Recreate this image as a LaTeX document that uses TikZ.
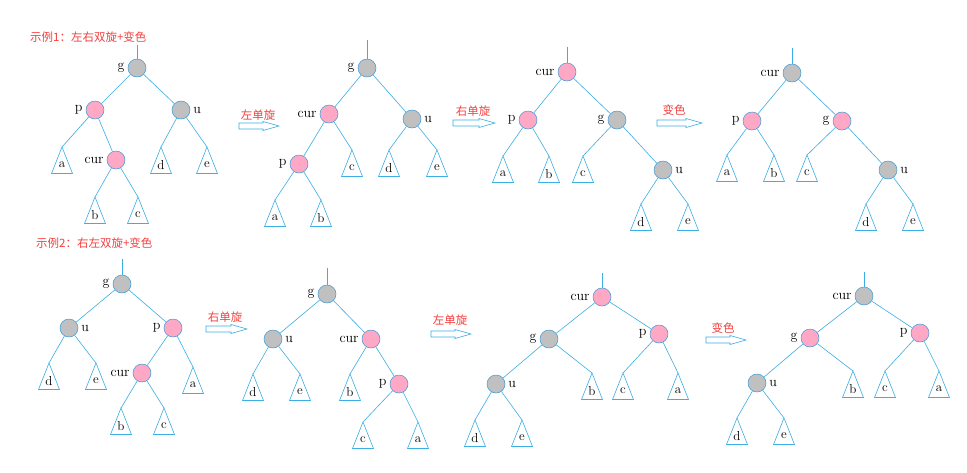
\documentclass[tikz,border=0pt]{standalone}
\usepackage{fontspec}
\newfontfamily\cjk{Noto Sans CJK SC}
\usetikzlibrary{positioning}
\definecolor{lb}{HTML}{3BAEE3}
\definecolor{cb}{HTML}{3A9AD9}
\definecolor{gy}{HTML}{C0C0C0}
\definecolor{pk}{HTML}{FFA8C5}
\definecolor{rd}{HTML}{F5403F}
\tikzset{
  edge/.style={draw=lb, line width=0.6pt},
  rn/.style={circle, draw=cb, fill=pk, minimum size=18pt, inner sep=0pt, line width=0.5pt},
  bn/.style={circle, draw=cb, fill=gy, minimum size=18pt, inner sep=0pt, line width=0.5pt},
  lab/.style={font=\fontsize{14}{14}\selectfont, inner sep=0.5pt},
  leaf/.style={font=\fontsize{13}{13}\selectfont, inner sep=0pt},
  cn/.style={text=rd, font=\cjk\fontsize{11.5}{12}\selectfont, inner sep=0pt},
  harrow/.style={draw=lb, line width=0.6pt, fill=white},
}
% tree node: name, style, x, y, label, side
\newcommand\tn[6]{%
  \node[#2] (#1) at (#3,#4) {};
  \node[lab, #6=2.5pt of #1] (#1l) {#5};}
% subtree triangle: name, apex x, apex y, text
\newcommand\lf[4]{%
  \coordinate (#1) at (#2,#3);
  \draw[edge] (#1) -- ++(-10.5,26.5) -- ++(21,0) -- cycle;
  \node[leaf] (#1x) at ([yshift=-18pt]#1) {#4};}
% hollow arrow: name, x0, x1, y
\newcommand\harr[4]{%
  \coordinate (#1a) at (#2,#4);
  \coordinate (#1b) at (#3,#4);
  \draw[harrow] (#2,{#4-3}) -- ({#3-16},{#4-3}) -- ({#3-16},{#4-4.5}) -- (#1b)
     -- ({#3-16},{#4+4.5}) -- ({#3-16},{#4+3}) -- (#2,{#4+3}) -- cycle;}
\begin{document}
\begin{tikzpicture}[x=1pt,y=-1pt]
\fill[white] (0,0) rectangle (967,472);
\useasboundingbox (0,0) rectangle (967,472);

% ---------- titles ----------
\node[cn, anchor=west] (title1) at (30,37) {示例1：左右双旋+变色};
\node[cn, anchor=west] (title2) at (36,243) {示例2：右左双旋+变色};

% ---------- tree 1 ----------
\tn{g1}{bn}{137}{68}{g}{left}
\tn{p1}{rn}{95}{110}{p}{left}
\tn{u1}{bn}{181}{110}{u}{right}
\tn{c1}{rn}{116}{160}{cur}{left}
\coordinate (s1) at (137,45);
\lf{a1}{62}{147}{a}
\lf{d1}{161}{147}{d}
\lf{e1}{207}{147}{e}
\lf{b1}{95}{197}{b}
\lf{cc1}{138}{197}{c}
\draw[edge] (s1) -- (g1);
\draw[edge] (g1) -- (p1); \draw[edge] (g1) -- (u1);
\draw[edge] (p1) -- (a1); \draw[edge] (p1) -- (c1);
\draw[edge] (u1) -- (d1); \draw[edge] (u1) -- (e1);
\draw[edge] (c1) -- (b1); \draw[edge] (c1) -- (cc1);

% arrow 1
\node[cn] (t1) at (258,115) {左单旋};
\harr{h1}{239}{279}{126}

% ---------- tree 2 ----------
\tn{g2}{bn}{367}{68}{g}{left}
\tn{c2}{rn}{329}{114}{cur}{left}
\tn{u2}{bn}{412}{119}{u}{right}
\tn{p2}{rn}{299}{164}{p}{left}
\coordinate (s2) at (367,40);
\lf{cc2}{352}{150}{c}
\lf{d2}{389}{150}{d}
\lf{e2}{437}{150}{e}
\lf{a2}{275}{200}{a}
\lf{b2}{321}{200}{b}
\draw[edge] (s2) -- (g2);
\draw[edge] (g2) -- (c2); \draw[edge] (g2) -- (u2);
\draw[edge] (c2) -- (p2); \draw[edge] (c2) -- (cc2);
\draw[edge] (u2) -- (d2); \draw[edge] (u2) -- (e2);
\draw[edge] (p2) -- (a2); \draw[edge] (p2) -- (b2);

% arrow 2
\node[cn] (t2) at (473,111) {右单旋};
\harr{h2}{453}{495}{123}

% ---------- tree 3 ----------
\tn{c3}{rn}{567}{72}{cur}{left}
\tn{p3}{rn}{528}{120}{p}{left}
\tn{g3}{bn}{617}{120}{g}{left}
\tn{u3}{bn}{663}{170}{u}{right}
\coordinate (s3) at (567,47);
\lf{a3}{503}{156}{a}
\lf{b3}{549}{156}{b}
\lf{cc3}{583}{156}{c}
\lf{d3}{641}{204}{d}
\lf{e3}{688}{204}{e}
\draw[edge] (s3) -- (c3);
\draw[edge] (c3) -- (p3); \draw[edge] (c3) -- (g3);
\draw[edge] (p3) -- (a3); \draw[edge] (p3) -- (b3);
\draw[edge] (g3) -- (cc3); \draw[edge] (g3) -- (u3);
\draw[edge] (u3) -- (d3); \draw[edge] (u3) -- (e3);

% arrow 3
\node[cn] (t3) at (674,110) {变色};
\harr{h3}{657}{702}{123}

% ---------- tree 4 ----------
\tn{c4}{bn}{792}{73}{cur}{left}
\tn{p4}{rn}{752}{121}{p}{left}
\tn{g4}{rn}{842}{121}{g}{left}
\tn{u4}{bn}{888}{170}{u}{right}
\coordinate (s4) at (792,48);
\lf{a4}{727}{155}{a}
\lf{b4}{774}{155}{b}
\lf{cc4}{807}{155}{c}
\lf{d4}{866}{204}{d}
\lf{e4}{913}{204}{e}
\draw[edge] (s4) -- (c4);
\draw[edge] (c4) -- (p4); \draw[edge] (c4) -- (g4);
\draw[edge] (p4) -- (a4); \draw[edge] (p4) -- (b4);
\draw[edge] (g4) -- (cc4); \draw[edge] (g4) -- (u4);
\draw[edge] (u4) -- (d4); \draw[edge] (u4) -- (e4);

% ---------- tree 5 ----------
\tn{g5}{bn}{122}{284}{g}{left}
\tn{u5}{bn}{69}{328}{u}{right}
\tn{p5}{rn}{173}{328}{p}{left}
\tn{c5}{rn}{142}{373}{cur}{left}
\coordinate (s5) at (122,259);
\lf{d5}{49}{363}{d}
\lf{e5}{96}{363}{e}
\lf{a5}{193}{367}{a}
\lf{b5}{121}{408}{b}
\lf{cc5}{164}{408}{c}
\draw[edge] (s5) -- (g5);
\draw[edge] (g5) -- (u5); \draw[edge] (g5) -- (p5);
\draw[edge] (u5) -- (d5); \draw[edge] (u5) -- (e5);
\draw[edge] (p5) -- (c5); \draw[edge] (p5) -- (a5);
\draw[edge] (c5) -- (b5); \draw[edge] (c5) -- (cc5);

% arrow 4
\node[cn] (t4) at (225,317) {右单旋};
\harr{h4}{206}{247}{329}

% ---------- tree 6 ----------
\tn{g6}{bn}{327}{294}{g}{left}
\tn{u6}{bn}{273}{339}{u}{right}
\tn{c6}{rn}{371}{339}{cur}{left}
\tn{p6}{rn}{399}{384}{p}{left}
\coordinate (s6) at (327,268);
\lf{d6}{253}{374}{d}
\lf{e6}{300}{374}{e}
\lf{b6}{350}{374}{b}
\lf{cc6}{363}{422}{c}
\lf{a6}{418}{422}{a}
\draw[edge] (s6) -- (g6);
\draw[edge] (g6) -- (u6); \draw[edge] (g6) -- (c6);
\draw[edge] (u6) -- (d6); \draw[edge] (u6) -- (e6);
\draw[edge] (c6) -- (b6); \draw[edge] (c6) -- (p6);
\draw[edge] (p6) -- (cc6); \draw[edge] (p6) -- (a6);

% arrow 5
\node[cn] (t5) at (450,320) {左单旋};
\harr{h5}{431}{471}{334}

% ---------- tree 7 ----------
\tn{c7}{rn}{602}{297}{cur}{left}
\tn{g7}{bn}{549}{339}{g}{left}
\tn{p7}{rn}{659}{334}{p}{left}
\tn{u7}{bn}{496}{384}{u}{right}
\coordinate (s7) at (602,273);
\lf{b7}{592}{373}{b}
\lf{cc7}{623}{373}{c}
\lf{a7}{678}{373}{a}
\lf{d7}{475}{420}{d}
\lf{e7}{522}{420}{e}
\draw[edge] (s7) -- (c7);
\draw[edge] (c7) -- (g7); \draw[edge] (c7) -- (p7);
\draw[edge] (g7) -- (u7); \draw[edge] (g7) -- (b7);
\draw[edge] (p7) -- (cc7); \draw[edge] (p7) -- (a7);
\draw[edge] (u7) -- (d7); \draw[edge] (u7) -- (e7);

% arrow 6
\node[cn] (t6) at (723,328) {变色};
\harr{h6}{706}{746}{340}

% ---------- tree 8 ----------
\tn{c8}{bn}{864}{296}{cur}{left}
\tn{g8}{rn}{810}{338}{g}{left}
\tn{p8}{rn}{920}{333}{p}{left}
\tn{u8}{bn}{757}{383}{u}{right}
\coordinate (s8) at (864,272);
\lf{b8}{853}{371}{b}
\lf{cc8}{885}{371}{c}
\lf{a8}{939}{371}{a}
\lf{d8}{737}{418}{d}
\lf{e8}{784}{418}{e}
\draw[edge] (s8) -- (c8);
\draw[edge] (c8) -- (g8); \draw[edge] (c8) -- (p8);
\draw[edge] (g8) -- (u8); \draw[edge] (g8) -- (b8);
\draw[edge] (p8) -- (cc8); \draw[edge] (p8) -- (a8);
\draw[edge] (u8) -- (d8); \draw[edge] (u8) -- (e8);
\end{tikzpicture}
\end{document}
